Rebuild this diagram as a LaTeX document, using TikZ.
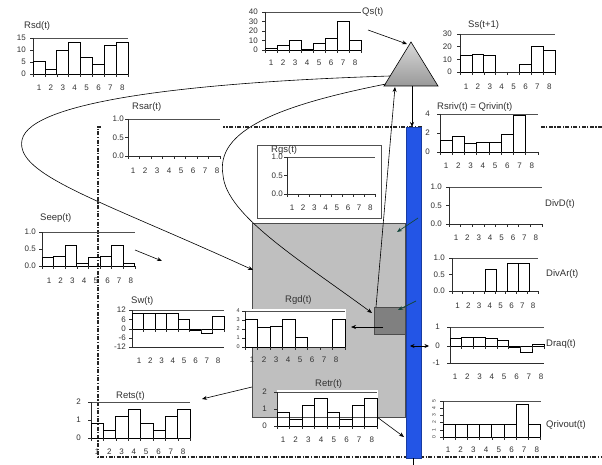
\documentclass[tikz,border=0pt]{standalone}
\usepackage{fontspec}
\setmainfont{Liberation Sans}
\usetikzlibrary{arrows.meta}
\definecolor{riverblue}{RGB}{35,85,230}
\definecolor{txt}{RGB}{50,50,50}
\definecolor{lin}{RGB}{45,45,45}
\definecolor{grd}{RGB}{80,80,80}
\definecolor{seepc}{RGB}{20,70,60}
\tikzset{
 bar/.style={draw=black, line width=0.7pt},
 axisl/.style={draw=lin, line width=0.8pt},
 gridl/.style={draw=grd, line width=0.9pt},
 tickl/.style={draw=lin, line width=0.6pt},
 xl/.style={font=\fontsize{8}{9}\selectfont, text=txt, inner sep=0pt},
 yl/.style={font=\fontsize{8}{9}\selectfont, text=txt, inner sep=0pt, anchor=east},
 ysmall/.style={font=\fontsize{5.5}{6}\selectfont, text=txt, inner sep=0pt, anchor=east},
 ttl/.style={font=\fontsize{9.5}{10}\selectfont, text=txt, inner sep=0pt, anchor=west},
 conn/.style={draw=black, line width=0.6pt, -{Stealth[length=5pt,width=4pt]}},
 sconn/.style={draw=seepc, line width=0.7pt, -{Stealth[length=5pt,width=4pt]}},
 frm/.style={draw=black!85, line width=1.5pt, dash pattern=on 4pt off 1.5pt on 1.2pt off 1.5pt},
}
\newcommand\chframe[5]{%
 \draw[gridl] (#1,#3) -- (#2,#3);
 \draw[axisl] (#1,#3) -- (#1,#4);
 \draw[axisl] (#1,#4) -- (#2,#4);
 \draw[axisl] (#1,#5) -- (#2,#5);
}
\newcommand\cticks[3]{%
 \foreach \k in {0,...,8} \draw[tickl] ({#1+\k*#2},#3) -- ({#1+\k*#2},{#3+3});
}
\newcommand\chbars[5]{%
 \foreach \v [count=\i] in {#5} {%
   \ifdim \v pt=0pt\relax\else
   \draw[bar] ({#1+(\i-1)*#3},#2) rectangle ({#1+\i*#3},{#2-\v*#4});
   \fi}%
}
\newcommand\xls[4]{%
 \foreach \i in {1,...,8} \node[xl] (#1x\i) at ({#2+(\i-1)*#3},#4) {\i};
}
\newcommand\yls[4]{%
 \foreach \yy/\lab [count=\j] in {#4} {%
   \draw[tickl] ({#2-3},\yy) -- (#2,\yy);
   \node[yl] (#1y\j) at (#3,\yy) {\lab};
 }%
}
\begin{document}
\begin{tikzpicture}[x=1pt,y=-1pt]
\useasboundingbox (0,0) rectangle (602,465);
\fill[white] (0,0) rectangle (602,465);

% dash-dot frame
\coordinate (fTL) at (98,127); \coordinate (fTR) at (602,127);
\coordinate (fBL) at (98,457); \coordinate (fBR) at (602,457);
\draw[frm] (fTR) -- (fTL) -- (fBL) -- (fBR);

% groundwater boxes
\node[draw=black!70, fill=gray!50, line width=0.8pt, minimum width=153pt, minimum height=194pt, inner sep=0pt, anchor=north west] (gw) at (252,223) {};
\node[draw=black!70, fill=gray, line width=0.6pt, minimum width=31pt, minimum height=27pt, inner sep=0pt, anchor=north west] (gd) at (374,307) {};

% white chart backgrounds
\fill[white] (101,101) rectangle (223,178);
\fill[white] (423,101) rectangle (540,172);
\node[draw=grd, fill=white, line width=0.7pt, minimum width=124pt, minimum height=73pt, inner sep=0pt, anchor=north west] (rgsbox) at (257,145) {};
\fill[white] (243,309) rectangle (346,348);
\fill[white] (277,390) rectangle (378,417);

% river
\node[fill=riverblue, draw=riverblue!70!black, line width=0.5pt, minimum width=15pt, minimum height=331pt, inner sep=0pt, anchor=north west] (river) at (406,127) {};
\coordinate (rb) at (413,458); \coordinate (rbo) at (413,465);
\draw[line width=0.6pt] (rb) -- (rbo);

% reservoir triangle
\coordinate (ta) at (411,42); \coordinate (tl) at (384,86); \coordinate (tr) at (438,86);
\shadedraw[top color=gray!30, bottom color=gray!80, draw=black, line width=0.6pt] (ta) -- (tr) -- (tl) -- cycle;

% connectors
\coordinate (qsA) at (368,30); \coordinate (qsB) at (407,44);
\draw[conn] (qsA) -- (qsB);
\coordinate (tb) at (412,86); \coordinate (rt) at (412,127);
\draw[conn] (tb) -- (rt);
\coordinate (gdt) at (376,307); \coordinate (tbl) at (395,87);
\draw[conn] (gdt) -- (tbl);
\coordinate (c1s) at (390,76); \coordinate (c1m) at (22,140); \coordinate (c1e) at (253,270);
\draw[conn] (c1s) .. controls (200,82) and (30,100) .. (c1m) .. controls (15,175) and (100,200) .. (c1e);
\coordinate (c2s) at (386,84); \coordinate (c2m) at (223,175); \coordinate (c2e) at (372,313);
\draw[conn] (c2s) .. controls (280,105) and (215,130) .. (c2m) .. controls (226,215) and (300,260) .. (c2e);
\coordinate (seA) at (135,250); \coordinate (seB) at (162,261);
\draw[conn] (seA) -- (seB);
\coordinate (gdA) at (383,327); \coordinate (gdB) at (351,327);
\draw[conn] (gdA) -- (gdB);
\coordinate (rtA) at (377,417); \coordinate (rtB) at (404,437);
\draw[conn] (rtA) -- (rtB);
\coordinate (reA) at (252,387); \coordinate (reB) at (202,399);
\draw[conn] (reA) -- (reB);
\coordinate (s1A) at (418,218); \coordinate (s1B) at (397,232);
\draw[sconn] (s1A) -- (s1B);
\coordinate (s2A) at (416,301); \coordinate (s2B) at (398,310);
\draw[sconn] (s2A) -- (s2B);
\coordinate (dqA) at (410,346); \coordinate (dqB) at (429,346);
\draw[draw=black, line width=0.6pt, {Stealth[length=4.5pt,width=4pt]}-{Stealth[length=4.5pt,width=4pt]}] (dqA) -- (dqB);

% Rsd(t)
\node[ttl] (rsdT) at (24,26) {Rsd(t)};
\chframe{33}{128}{38}{74}{74}
\chbars{33}{74}{11.9}{2.4}{5.4,2,10,13,7,4,12,13}
\cticks{33}{11.9}{74}
\yls{rsd}{33}{26}{38/15,50/10,62/5,74/0}
\xls{rsd}{39}{11.9}{88}

% Qs(t)
\node[ttl] (qsT) at (362,12) {Qs(t)};
\chframe{265}{361}{12}{50}{50}
\chbars{265}{50}{12}{0.95}{1.5,5,10,1,7,12,30,10}
\cticks{265}{12}{50}
\yls{qs}{265}{258}{12/40,21.5/30,31/20,40.5/10,50/0}
\xls{qs}{271}{12}{63}

% Ss(t+1)
\node[ttl] (ssT) at (468,25) {Ss(t+1)};
\chframe{460}{555}{34}{72}{72}
\chbars{460}{72}{11.9}{1.27}{13,14,13,0,0,6,20,17}
\cticks{460}{11.9}{72}
\yls{ss}{460}{452}{34/30,46.7/20,59.3/10,72/0}
\xls{ss}{466}{11.9}{87}

% Rsar(t)
\node[ttl] (rsarT) at (132,107) {Rsar(t)};
\chframe{128}{220}{119}{156}{156}
\cticks{128}{11.5}{156}
\yls{rsar}{128}{124}{119/1.0,137.5/0.5,156/0.0}
\xls{rsar}{133}{12}{171}

% Rgs(t)
\node[ttl] (rgsT) at (271,150) {Rgs(t)};
\chframe{287}{375}{157}{194}{194}
\cticks{287}{11}{194}
\yls{rgs}{287}{283}{157/1.0,175.5/0.5,194/0.0}
\xls{rgs}{292}{11.2}{208}

% Rsriv(t) = Qrivin(t)
\node[ttl] (rsrivT) at (437,107) {Rsriv(t) = Qrivin(t)};
\chframe{440}{538}{114}{152}{152}
\chbars{440}{152}{12.25}{9.5}{1.2,1.6,0.9,1.05,1.0,1.9,3.9,0}
\cticks{440}{12.25}{152}
\yls{rsriv}{440}{430}{114/4,133/2,152/0}
\xls{rsriv}{446}{12.25}{166}

% DivD(t)
\node[ttl] (divdT) at (545,204) {DivD(t)};
\chframe{449}{542}{187}{224}{224}
\cticks{449}{11.6}{224}
\yls{divd}{449}{442}{187/1.0,205.5/0.5,224/0.0}
\xls{divd}{456}{11.4}{238}

% DivAr(t)
\node[ttl] (divarT) at (546,274) {DivAr(t)};
\chframe{452}{538}{258}{291}{291}
\chbars{452}{291}{11}{33}{0,0,0,0.67,0,0.85,0.85,0}
\cticks{452}{10.75}{291}
\yls{divar}{452}{445}{258/1.0,274.5/0.5,291/0.0}
\xls{divar}{457.5}{10.8}{306}

% Draq(t)
\node[ttl] (draqT) at (546,344) {Draq(t)};
\chframe{450}{544}{327}{363}{346}
\chbars{450}{346}{11.75}{18}{0.42,0.5,0.5,0.45,0.3,-0.08,-0.38,0.1}
\cticks{450}{11.75}{346}
\yls{draq}{450}{440}{327/1,346/0,363/-1}
\xls{draq}{455}{12.3}{377}

% Qrivout(t)
\node[ttl] (qrT) at (546,425) {Qrivout(t)};
\chframe{443}{541}{401}{437}{437}
\chbars{443}{437}{12.2}{7.2}{1.7,1.7,1.7,1.7,1.7,1.7,4.6,1.7}
\cticks{443}{12.2}{437}
\foreach \k in {0,...,5} {%
  \draw[tickl] (440,{437-\k*7.2}) -- (443,{437-\k*7.2});
  \node[font=\fontsize{5}{5}\selectfont, text=txt, rotate=90, inner sep=0pt] (qry\k) at (434,{437-\k*7.2}) {\k};
}
\xls{qr}{448}{12.7}{450}

% Seep(t)
\node[ttl] (seepT) at (40,218) {Seep(t)};
\chframe{42}{135}{232}{266}{266}
\chbars{42}{266}{11.6}{34}{0.25,0.28,0.6,0.07,0.25,0.28,0.6,0.07}
\cticks{42}{11.6}{266}
\yls{seep}{42}{36}{232/1.0,249/0.5,266/0.0}
\xls{seep}{49}{11.7}{281}

% Sw(t)
\node[ttl] (swT) at (131,301) {Sw(t)};
\chframe{132}{224}{310}{347}{329}
\chbars{132}{329}{11.5}{1.58}{10,10,10,10,6,-0.6,-3,8}
\cticks{132}{11.5}{329}
\yls{sw}{132}{126}{310/12,319.5/6,329/0,338/-6,347/-12}
\xls{sw}{139}{11.3}{361}

% Rgd(t)
\node[ttl] (rgdT) at (285,300) {Rgd(t)};
\chframe{245}{345}{311}{347}{347}
\chbars{245}{347}{12.5}{9}{3.1,2.2,2.3,3.1,1.1,0,0,3.1}
\cticks{245}{12.5}{347}
\foreach \yy/\lab [count=\j] in {311/4,320/3,329/2,338/1,347/0} {%
  \draw[tickl] (242,\yy) -- (245,\yy);
  \node[ysmall] (rgdy\j) at (240,\yy) {\lab};
}
\xls{rgd}{252}{12}{360}

% Retr(t)
\node[ttl] (retrT) at (315,384) {Retr(t)};
\chframe{277}{377}{392}{426}{426}
\chbars{277}{426}{12.5}{17}{0.8,0.4,1.2,1.6,0.8,0.4,1.2,1.6}
\cticks{277}{12.5}{426}
\yls{retr}{277}{267}{392/2,409/1,426/0}
\xls{retr}{283}{12.7}{440}

% Rets(t)
\node[ttl] (retsT) at (116,396) {Rets(t)};
\chframe{91}{190}{402}{438}{438}
\chbars{91}{438}{12.4}{18}{0.8,0.4,1.2,1.6,0.8,0.4,1.2,1.6}
\cticks{91}{12.4}{438}
\yls{rets}{91}{81}{402/2,420/1,438/0}
\xls{rets}{97}{12.3}{452}
\end{tikzpicture}
\end{document}
